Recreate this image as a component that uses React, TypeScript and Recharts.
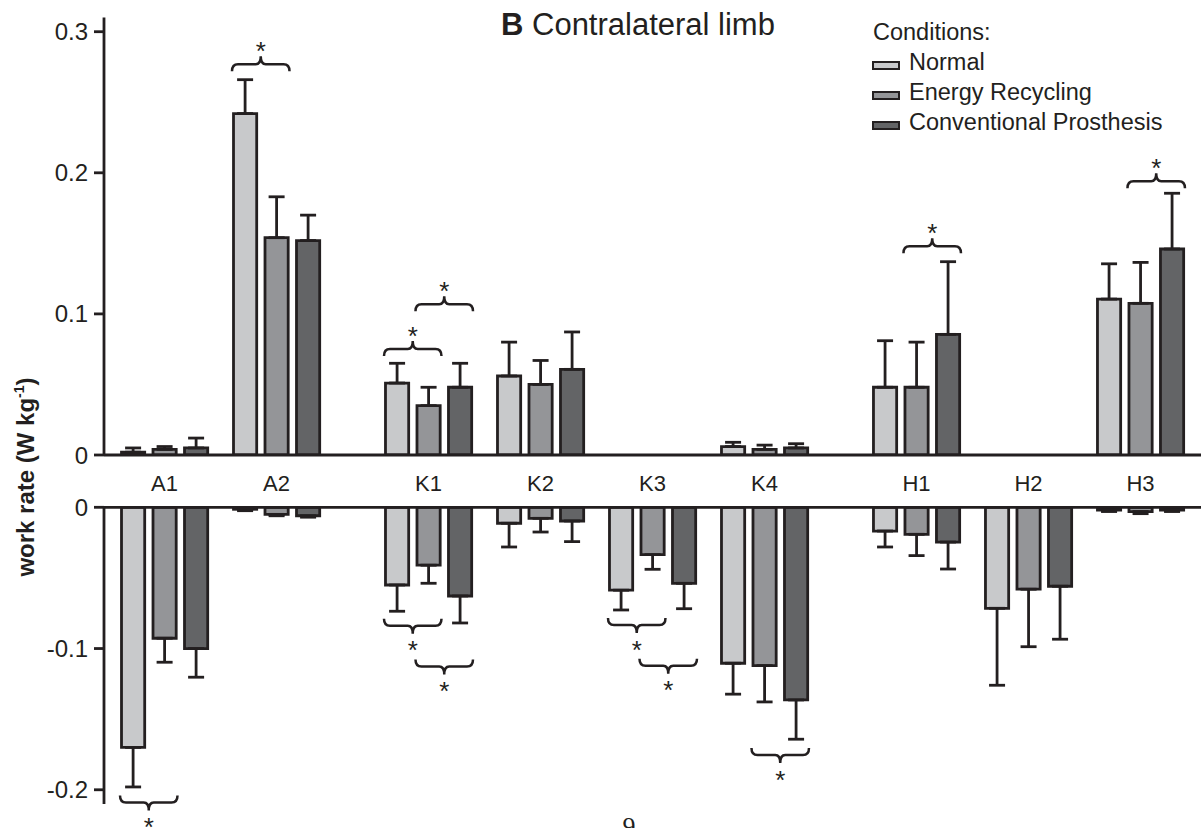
import React from 'react';
import { BarChart, Bar, XAxis, YAxis, ErrorBar, ReferenceLine, Legend } from 'recharts';

// ---------- data ----------
const categories = ['A1', 'A2', 'K1', 'K2', 'K3', 'K4', 'H1', 'H2', 'H3'];
const jointOrder = ['A', 'K', 'H'];
const seriesNames = ['Normal', 'Energy Recycling', 'Conventional Prosthesis'];

const positiveNormal = [0.002, 0.242, 0.051, 0.056, 0, 0.006, 0.048, 0, 0.1105];
const positiveEnergy = [0.004, 0.154, 0.035, 0.050, 0, 0.004, 0.048, 0, 0.1075];
const positiveConventional = [0.005, 0.152, 0.048, 0.0607, 0, 0.005, 0.0855, 0, 0.146];
const positiveNormalSD = [0.003, 0.024, 0.014, 0.024, 0, 0.003, 0.033, 0, 0.025];
const positiveEnergySD = [0.002, 0.029, 0.013, 0.017, 0, 0.003, 0.032, 0, 0.029];
const positiveConventionalSD = [0.007, 0.018, 0.017, 0.0265, 0, 0.003, 0.0515, 0, 0.0395];

const negativeNormal = [-0.170, -0.0014, -0.055, -0.0113, -0.0587, -0.1104, -0.0168, -0.0715, -0.002];
const negativeEnergy = [-0.0927, -0.005, -0.041, -0.0078, -0.0335, -0.1121, -0.0191, -0.058, -0.003];
const negativeConventional = [-0.100, -0.006, -0.0628, -0.0097, -0.0538, -0.1364, -0.0246, -0.0559, -0.002];
const negativeNormalSD = [0.028, 0.001, 0.0186, 0.0168, 0.014, 0.0219, 0.0113, 0.0545, 0.001];
const negativeEnergySD = [0.017, 0.001, 0.0128, 0.0097, 0.0104, 0.0257, 0.0151, 0.0407, 0.0015];
const negativeConventionalSD = [0.0203, 0.001, 0.0191, 0.0146, 0.018, 0.0278, 0.0191, 0.0375, 0.001];

const positiveTicks = [0, 0.1, 0.2, 0.3];
const negativeTicks = [-0.2, -0.1, 0];

// significance brackets: category, first series, last series, bracket level (data units)
const positiveSignificance = [
  { cat: 'A2', from: 0, to: 1, level: 0.277 },
  { cat: 'K1', from: 0, to: 1, level: 0.0751 },
  { cat: 'K1', from: 1, to: 2, level: 0.1068 },
  { cat: 'H1', from: 1, to: 2, level: 0.148 },
  { cat: 'H3', from: 1, to: 2, level: 0.194 },
];
const negativeSignificance = [
  { cat: 'A1', from: 0, to: 1, level: -0.209 },
  { cat: 'K1', from: 0, to: 1, level: -0.0838 },
  { cat: 'K1', from: 1, to: 2, level: -0.1128 },
  { cat: 'K3', from: 0, to: 1, level: -0.0833 },
  { cat: 'K3', from: 1, to: 2, level: -0.1121 },
  { cat: 'K4', from: 1, to: 2, level: -0.1753 },
];

// ---------- layout / style ----------
const W = 1201;
const H = 828;
const INK = '#231f20';
const FONT = '"Liberation Sans", Arial, Helvetica, sans-serif';
const COLORS = ['#c8c9cb', '#949598', '#636466'];
const JOINT_GAP = 0.357;
const X_DOMAIN: [number, number] = [-0.5402, 9.2545];
const Y_AXIS_W = 104;
const STROKE = 2.8;
const BAR_SIZE = 23.2;
const BAR_GAP = 8.3;
const UNIT_PX = (W - Y_AXIS_W) / (X_DOMAIN[1] - X_DOMAIN[0]);

const positions = categories.map((c, i) => i + jointOrder.indexOf(c[0]) * JOINT_GAP);

const topRows = categories.map((c, i) => ({
  pos: positions[i],
  name: c,
  s0: positiveNormal[i],
  s1: positiveEnergy[i],
  s2: positiveConventional[i],
  e0: [0, positiveNormalSD[i]],
  e1: [0, positiveEnergySD[i]],
  e2: [0, positiveConventionalSD[i]],
}));

const bottomRows = categories.map((c, i) => ({
  pos: positions[i],
  name: c,
  s0: negativeNormal[i],
  s1: negativeEnergy[i],
  s2: negativeConventional[i],
  e0: [negativeNormalSD[i], 0],
  e1: [negativeEnergySD[i], 0],
  e2: [negativeConventionalSD[i], 0],
}));

const catLabel = (v: number) => {
  const idx = positions.findIndex((p) => Math.abs(p - v) < 1e-6);
  return idx >= 0 ? categories[idx] : '';
};

const seriesOffsetUnits = (s: number, side: number) =>
  ((s - 1) * (BAR_SIZE + BAR_GAP) + side * (BAR_SIZE / 2 + STROKE / 2)) / UNIT_PX;

const makeBrace = (dir: number) => (p: any) => {
  const { x1, x2, y1 } = p;
  if (![x1, x2, y1].every((v) => typeof v === 'number' && isFinite(v))) return null;
  const y = y1;
  const mid = (x1 + x2) / 2;
  const end = 7 * -dir; // ends curl toward bars
  const nub = 8 * dir;
  const d = `M ${x1} ${y + end} Q ${x1} ${y} ${x1 + 6} ${y} L ${mid - 5} ${y} Q ${mid} ${y} ${mid} ${y + nub} Q ${mid} ${y} ${mid + 5} ${y} L ${x2 - 6} ${y} Q ${x2} ${y} ${x2} ${y + end}`;
  const fs = 26;
  const starCenter = y + dir * 19;
  return (
    <g>
      <path d={d} fill="none" stroke={INK} strokeWidth={2.5} />
      <text x={mid} y={starCenter + fs * 0.57} textAnchor="middle" fontSize={fs} fontFamily={FONT} fill={INK}>
        *
      </text>
    </g>
  );
};

const renderLegend = (props: any) => {
  const payload = (props && props.payload) || [];
  const items = seriesNames.map((name, i) => {
    const found = payload.find((p: any) => p.value === name);
    return { name, color: (found && found.color) || COLORS[i] };
  });
  return (
    <div style={{ fontFamily: FONT, fontSize: 23.5, color: INK, lineHeight: '30px', textAlign: 'left' }}>
      <div style={{ height: 30, whiteSpace: 'nowrap', paddingLeft: 1 }}>Conditions:</div>
      {items.map((it) => (
        <div key={it.name} style={{ position: 'relative', height: 30, whiteSpace: 'nowrap', paddingLeft: 37 }}>
          <span
            style={{
              position: 'absolute',
              left: 0,
              top: 14,
              width: 30 - 2 * STROKE,
              height: 11 - 2 * STROKE,
              background: it.color,
              border: `${STROKE}px solid ${INK}`,
            }}
          />
          {it.name}
        </div>
      ))}
    </div>
  );
};

const tickStyleY = { fill: INK, fontSize: 24, fontFamily: FONT };
const tickStyleX = { fill: INK, fontSize: 22, fontFamily: FONT };

const renderBars = () =>
  [0, 1, 2].map((s) => (
    <Bar
      key={`s${s}`}
      dataKey={`s${s}`}
      name={seriesNames[s]}
      fill={COLORS[s]}
      stroke={INK}
      strokeWidth={STROKE}
      isAnimationActive={false}
    >
      <ErrorBar dataKey={`e${s}`} width={8} stroke={INK} strokeWidth={STROKE} isAnimationActive={false} />
    </Bar>
  ));

const renderBraces = (list: typeof positiveSignificance, dir: number) =>
  list.map((b, i) => {
    const pos = positions[categories.indexOf(b.cat)];
    return (
      <ReferenceLine
        key={`brace${i}`}
        segment={[
          { x: pos + seriesOffsetUnits(b.from, -1), y: b.level },
          { x: pos + seriesOffsetUnits(b.to, 1), y: b.level },
        ]}
        ifOverflow="visible"
        stroke={INK}
        shape={makeBrace(dir)}
      />
    );
  });

export default function App() {
  const topPlotTop = 17.6;
  const topZero = 455;
  const xAxisH = 40;
  const bottomTop = 507.3;
  const bottomEnd = 803.9;
  return (
    <div style={{ position: 'absolute', left: 0, top: 0, width: W, height: H, background: '#fff', overflow: 'hidden' }}>
      <div style={{ position: 'absolute', left: 0, top: 0 }}>
        <BarChart
          width={W}
          height={H}
          data={topRows}
          margin={{ top: topPlotTop, right: 0, left: 0, bottom: H - topZero - xAxisH }}
          barSize={BAR_SIZE}
          barGap={BAR_GAP}
        >
          <XAxis
            dataKey="pos"
            type="number"
            domain={X_DOMAIN}
            allowDataOverflow
            ticks={positions}
            interval={0}
            tickFormatter={catLabel}
            tickLine={false}
            tickSize={6}
            tickMargin={14}
            height={xAxisH}
            axisLine={{ stroke: INK, strokeWidth: STROKE }}
            tick={tickStyleX}
          />
          <YAxis
            type="number"
            domain={[0, 0.31]}
            allowDataOverflow
            ticks={positiveTicks}
            interval={0}
            width={Y_AXIS_W}
            tickSize={10}
            tickMargin={6}
            axisLine={{ stroke: INK, strokeWidth: STROKE }}
            tickLine={{ stroke: INK, strokeWidth: STROKE }}
            tick={tickStyleY}
          />
          {renderBars()}
          {renderBraces(positiveSignificance, -1)}
          <Legend
            layout="vertical"
            align="center"
            verticalAlign="middle"
            content={renderLegend}
            wrapperStyle={{ left: 872, top: 17, width: 329, height: 125 }}
          />
        </BarChart>
      </div>
      <div style={{ position: 'absolute', left: 0, top: 0 }}>
        <BarChart
          width={W}
          height={H}
          data={bottomRows}
          margin={{ top: bottomTop, right: 0, left: 0, bottom: H - bottomEnd }}
          barSize={BAR_SIZE}
          barGap={BAR_GAP}
        >
          <XAxis dataKey="pos" type="number" domain={X_DOMAIN} allowDataOverflow ticks={positions} hide />
          <YAxis
            type="number"
            domain={[-0.21, 0]}
            allowDataOverflow
            ticks={negativeTicks}
            interval={0}
            width={Y_AXIS_W}
            tickSize={10}
            tickMargin={6}
            axisLine={{ stroke: INK, strokeWidth: STROKE }}
            tickLine={{ stroke: INK, strokeWidth: STROKE }}
            tick={tickStyleY}
          />
          <ReferenceLine y={0} stroke={INK} strokeWidth={STROKE} ifOverflow="visible" />
          {renderBars()}
          {renderBraces(negativeSignificance, 1)}
        </BarChart>
      </div>
      <svg width={W} height={H} style={{ position: 'absolute', left: 0, top: 0, pointerEvents: 'none' }}>
        <text x={501} y={35} fontSize={31} fontFamily={FONT} fill={INK}>
          <tspan fontWeight="bold">B</tspan> Contralateral limb
        </text>
        <text
          x={34}
          y={477}
          transform="rotate(-90 34 477)"
          textAnchor="middle"
          fontSize={24}
          fontWeight="bold"
          fontFamily={FONT}
          fill={INK}
        >
          work rate (W kg
          <tspan fontSize={14} dy={-10}>-1</tspan>
          <tspan dy={10}>)</tspan>
        </text>
        <text x={629} y={835} textAnchor="middle" fontSize={26} fontFamily='"Liberation Serif", "Times New Roman", serif' fill={INK}>
          9
        </text>
      </svg>
    </div>
  );
}
